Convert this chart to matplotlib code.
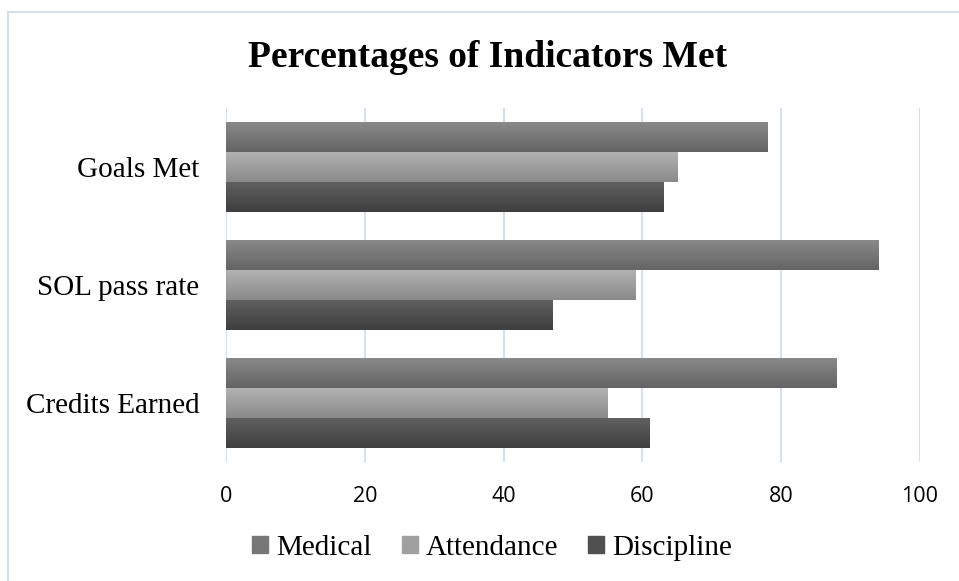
import numpy as np
import matplotlib
matplotlib.use("Agg")
import matplotlib.pyplot as plt
from matplotlib.patches import Rectangle

categories = ["Goals Met", "SOL pass rate", "Credits Earned"]
series     = ["Medical", "Attendance", "Discipline"]
medical    = [78, 94, 88]
attendance = [65, 59, 55]
discipline = [63, 47, 61]
x_ticks    = [0, 20, 40, 60, 80, 100]

# top / bottom shade of each bar's vertical gradient
shades = {
    "Medical":    ("#898989", "#646464"),
    "Attendance": ("#b2b2b2", "#8a8a8a"),
    "Discipline": ("#606060", "#3f3f3f"),
}
legend_colors = ["#777777", "#a0a0a0", "#505050"]
GRID = "#d6e1f0"
SERIF = "Liberation Serif"

fig = plt.figure(figsize=(9.59, 5.81), dpi=100)
ax = fig.add_axes([226 / 959, 1 - 462 / 581, 694 / 959, 354 / 581])

# chart frame
fig.patches.append(Rectangle((8 / 959, -0.01), 1.0, 1 - 12 / 581 + 0.01,
                             transform=fig.transFigure, fill=False,
                             edgecolor=GRID, linewidth=1.5))

y = np.arange(len(categories))
h = 0.254
values = [medical, attendance, discipline]

for k, (name, vals) in enumerate(zip(series, values)):
    top, bot = shades[name]
    bars = ax.barh(y + (k - 1) * h, vals, height=h, color=bot, linewidth=0, zorder=2)
    grad = np.linspace(0, 1, 64).reshape(-1, 1)
    cmap = matplotlib.colors.LinearSegmentedColormap.from_list(name, [top, bot])
    for b in bars:
        x0, y0 = b.get_x(), b.get_y()
        w, hh = b.get_width(), b.get_height()
        ax.imshow(grad, cmap=cmap, aspect="auto", zorder=3,
                  extent=(x0, x0 + w, y0 + hh, y0), interpolation="bilinear")

ax.set_xlim(0, 100)
ax.set_ylim(len(categories) - 0.5, -0.5)
ax.set_xticks(x_ticks)
ax.set_yticks(y)
ax.set_yticklabels(categories, fontsize=21, family=SERIF)
ax.tick_params(axis="y", length=0, pad=19)
ax.tick_params(axis="x", length=0, pad=17, labelsize=15.5)
for lab in ax.get_xticklabels():
    lab.set_family("Open Sans")
ax.grid(axis="x", color=GRID, linewidth=1.5, zorder=0)
ax.set_axisbelow(True)
for s in ax.spines.values():
    s.set_visible(False)

fig.text(488 / 959, 1 - 67 / 581, "Percentages of Indicators Met",
         ha="center", va="baseline", fontsize=27, fontweight="bold", family=SERIF)

handles = [Rectangle((0, 0), 1, 1, color=c) for c in legend_colors]
fig.legend(handles, series, loc="center", bbox_to_anchor=(492 / 959, 1 - 548 / 581),
           ncol=3, frameon=False, prop={"family": SERIF, "size": 21},
           handlelength=0.55, handleheight=0.55, handletextpad=0.25,
           columnspacing=1.05, borderpad=0)

fig.savefig("out.png", dpi=100)
